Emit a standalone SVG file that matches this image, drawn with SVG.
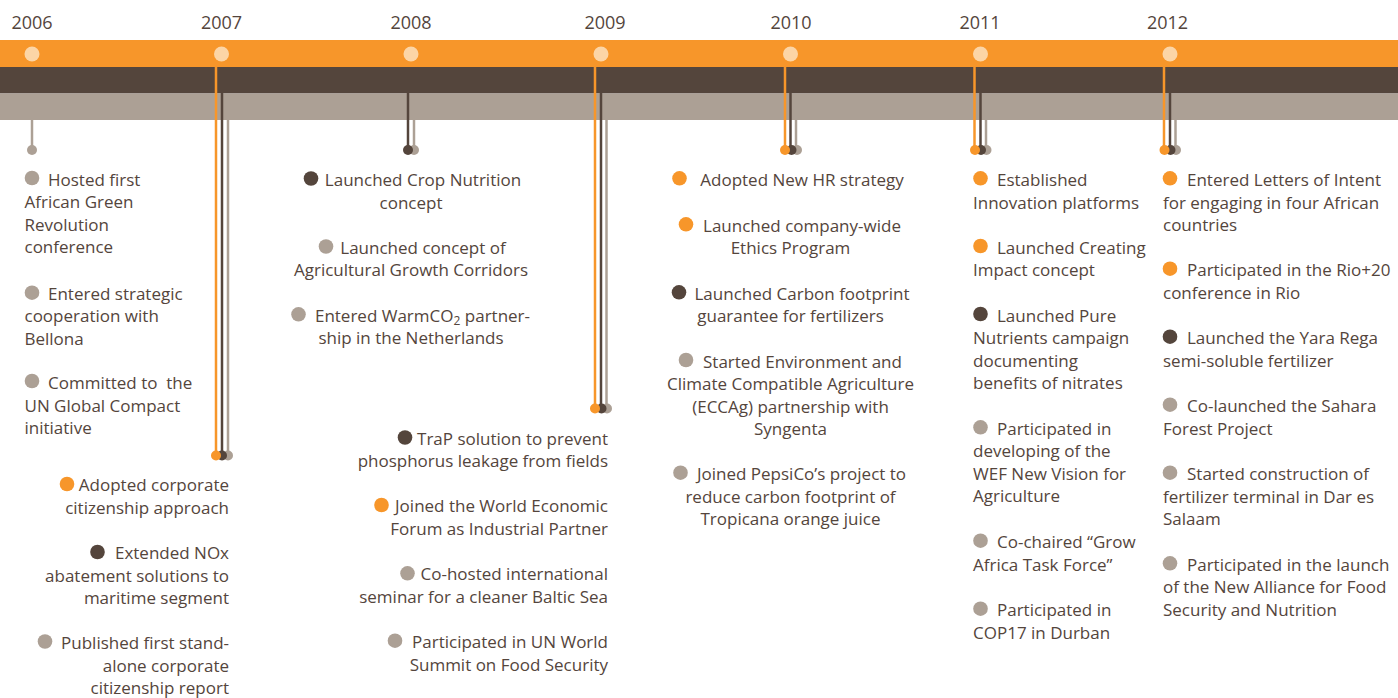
<svg xmlns="http://www.w3.org/2000/svg" width="1398" height="698" viewBox="0 0 1398 698">
<style>
.t{font-family:"Open Sans","Liberation Sans",sans-serif;font-size:17px;fill:#54453c}
.y{font-family:"Open Sans","Liberation Sans",sans-serif;font-size:18px;fill:#54453c;text-anchor:middle}
.e{text-anchor:end}
.m{text-anchor:middle}
.o{fill:#f7962a}
.d{fill:#54453c}
.g{fill:#aca095}
.yc{fill:#fcd5a6}
.lo{stroke:#f7962a;stroke-width:2.5;fill:none}
.ld{stroke:#54453c;stroke-width:2.5;fill:none}
.lg{stroke:#aca095;stroke-width:2.5;fill:none}
</style>
<rect width="1398" height="698" fill="#ffffff"/>
<g id="bars">
<rect x="0" y="40" width="1398" height="27" class="o"/>
<rect x="0" y="67" width="1398" height="26.5" class="d"/>
<rect x="0" y="93.5" width="1398" height="26.5" class="g"/>
</g>
<g id="years">
<text class="y" x="32" y="29">2006</text>
<text class="y" x="221.5" y="29">2007</text>
<text class="y" x="411" y="29">2008</text>
<text class="y" x="605" y="29">2009</text>
<text class="y" x="791" y="29">2010</text>
<text class="y" x="980" y="29">2011</text>
<text class="y" x="1167.5" y="29">2012</text>
<circle class="yc" cx="32" cy="54" r="7.5"/>
<circle class="yc" cx="221.5" cy="54" r="7.5"/>
<circle class="yc" cx="411" cy="54" r="7.5"/>
<circle class="yc" cx="601" cy="54" r="7.5"/>
<circle class="yc" cx="790.5" cy="54" r="7.5"/>
<circle class="yc" cx="980.5" cy="54" r="7.5"/>
<circle class="yc" cx="1170" cy="54" r="7.5"/>
</g>
<g id="connectors">
<line class="lg" x1="32" y1="120" x2="32" y2="150"/>
<circle class="g" cx="32" cy="150" r="5"/>
<line class="lo" x1="216" y1="67" x2="216" y2="455"/>
<line class="ld" x1="222" y1="93" x2="222" y2="455"/>
<line class="lg" x1="228" y1="120" x2="228" y2="455"/>
<circle class="g" cx="228" cy="455.5" r="5"/>
<circle class="d" cx="222" cy="455.5" r="5"/>
<circle class="o" cx="216" cy="455.5" r="5"/>
<line class="ld" x1="408" y1="93" x2="408" y2="150"/>
<line class="lg" x1="414" y1="120" x2="414" y2="150"/>
<circle class="g" cx="414" cy="150" r="5"/>
<circle class="d" cx="408" cy="150" r="5"/>
<line class="lo" x1="595" y1="67" x2="595" y2="408.5"/>
<line class="ld" x1="601" y1="93" x2="601" y2="408.5"/>
<line class="lg" x1="606.5" y1="120" x2="606.5" y2="408.5"/>
<circle class="g" cx="607" cy="408.5" r="5"/>
<circle class="d" cx="601.5" cy="408.5" r="5"/>
<circle class="o" cx="595" cy="408.5" r="5"/>
<line class="lo" x1="785" y1="67" x2="785" y2="150"/>
<line class="ld" x1="790.5" y1="93" x2="790.5" y2="150"/>
<line class="lg" x1="796" y1="120" x2="796" y2="150"/>
<circle class="g" cx="797" cy="150" r="5"/>
<circle class="d" cx="791.5" cy="150" r="5"/>
<circle class="o" cx="785" cy="150" r="5"/>
<line class="lo" x1="974.5" y1="67" x2="974.5" y2="150"/>
<line class="ld" x1="980.5" y1="93" x2="980.5" y2="150"/>
<line class="lg" x1="986" y1="120" x2="986" y2="150"/>
<circle class="g" cx="986.5" cy="150" r="5"/>
<circle class="d" cx="981" cy="150" r="5"/>
<circle class="o" cx="975" cy="150" r="5"/>
<line class="lo" x1="1164" y1="67" x2="1164" y2="150"/>
<line class="ld" x1="1170" y1="93" x2="1170" y2="150"/>
<line class="lg" x1="1175.5" y1="120" x2="1175.5" y2="150"/>
<circle class="g" cx="1176" cy="150" r="5"/>
<circle class="d" cx="1170.5" cy="150" r="5"/>
<circle class="o" cx="1164.5" cy="150" r="5"/>
</g>
<g id="y2006">
<circle class="g" cx="32" cy="178" r="7.3"/>
<text class="t" x="48" y="185.5">Hosted first</text>
<text class="t" x="24.5" y="208">African Green</text>
<text class="t" x="24.5" y="230.5">Revolution</text>
<text class="t" x="24.5" y="253">conference</text>
<circle class="g" cx="32" cy="292.7" r="7.3"/>
<text class="t" x="48" y="299.5">Entered strategic</text>
<text class="t" x="24.5" y="322">cooperation with</text>
<text class="t" x="24.5" y="344.5">Bellona</text>
<circle class="g" cx="32" cy="381" r="7.3"/>
<text class="t" x="48" y="389" xml:space="preserve">Committed to  the</text>
<text class="t" x="24.5" y="411.5">UN Global Compact</text>
<text class="t" x="24.5" y="434">initiative</text>
</g>
<g id="y2007">
<circle class="o" cx="67" cy="484" r="7.3"/>
<text class="t e" x="229" y="491">Adopted corporate</text>
<text class="t e" x="229" y="513.5">citizenship approach</text>
<circle class="d" cx="97.5" cy="552" r="7.3"/>
<text class="t e" x="229" y="559">Extended NOx</text>
<text class="t e" x="229" y="581.5">abatement solutions to</text>
<text class="t e" x="229" y="604">maritime segment</text>
<circle class="g" cx="45" cy="641.5" r="7.3"/>
<text class="t e" x="229" y="649">Published first stand-</text>
<text class="t e" x="229" y="671.5">alone corporate</text>
<text class="t e" x="229" y="694">citizenship report</text>
</g>
<g id="y2008">
<circle class="d" cx="311" cy="178.5" r="7.3"/>
<text class="t m" x="423" y="186">Launched Crop Nutrition</text>
<text class="t m" x="411" y="208.5">concept</text>
<circle class="g" cx="326" cy="246.5" r="7.3"/>
<text class="t m" x="423" y="253.5">Launched concept of</text>
<text class="t m" x="411" y="276">Agricultural Growth Corridors</text>
<circle class="g" cx="298.5" cy="314.3" r="7.3"/>
<text class="t m" x="422.5" y="321.5">Entered WarmCO<tspan font-size="12" dy="3">2</tspan><tspan dy="-3"> partner-</tspan></text>
<text class="t m" x="411" y="344">ship in the Netherlands</text>
</g>
<g id="y2009">
<circle class="d" cx="405" cy="437.5" r="7.3"/>
<text class="t e" x="608" y="444.5">TraP solution to prevent</text>
<text class="t e" x="608" y="467">phosphorus leakage from fields</text>
<circle class="o" cx="381.5" cy="505" r="7.3"/>
<text class="t e" x="608" y="512">Joined the World Economic</text>
<text class="t e" x="608" y="534.5">Forum as Industrial Partner</text>
<circle class="g" cx="407.5" cy="573.3" r="7.3"/>
<text class="t e" x="608" y="580">Co-hosted international</text>
<text class="t e" x="608" y="602.5">seminar for a cleaner Baltic Sea</text>
<circle class="g" cx="395" cy="640.7" r="7.3"/>
<text class="t e" x="608" y="648">Participated in UN World</text>
<text class="t e" x="608" y="670.5">Summit on Food Security</text>
</g>
<g id="y2010">
<circle class="o" cx="679.5" cy="178.3" r="7.3"/>
<text class="t m" x="802" y="186">Adopted New HR strategy</text>
<circle class="o" cx="686" cy="224.3" r="7.3"/>
<text class="t m" x="802" y="231.5">Launched company-wide</text>
<text class="t m" x="790.5" y="254">Ethics Program</text>
<circle class="d" cx="679" cy="292.3" r="7.3"/>
<text class="t m" x="802" y="299.5">Launched Carbon footprint</text>
<text class="t m" x="790.5" y="322">guarantee for fertilizers</text>
<circle class="g" cx="686" cy="360" r="7.3"/>
<text class="t m" x="802.5" y="367.5">Started Environment and</text>
<text class="t m" x="790.5" y="390">Climate Compatible Agriculture</text>
<text class="t m" x="790.5" y="412.5">(ECCAg) partnership with</text>
<text class="t m" x="790.5" y="435">Syngenta</text>
<circle class="g" cx="680.5" cy="472.7" r="7.3"/>
<text class="t m" x="801.5" y="480">Joined PepsiCo’s project to</text>
<text class="t m" x="790.5" y="502.5">reduce carbon footprint of</text>
<text class="t m" x="790.5" y="525">Tropicana orange juice</text>
</g>
<g id="y2011">
<circle class="o" cx="980.5" cy="178.3" r="7.3"/>
<text class="t" x="997" y="186">Established</text>
<text class="t" x="973" y="208.5">Innovation platforms</text>
<circle class="o" cx="980.5" cy="246" r="7.3"/>
<text class="t" x="997" y="253.5">Launched Creating</text>
<text class="t" x="973" y="276">Impact concept</text>
<circle class="d" cx="980.5" cy="314" r="7.3"/>
<text class="t" x="997" y="321.5">Launched Pure</text>
<text class="t" x="973" y="344">Nutrients campaign</text>
<text class="t" x="973" y="366.5">documenting</text>
<text class="t" x="973" y="389">benefits of nitrates</text>
<circle class="g" cx="980.5" cy="427.3" r="7.3"/>
<text class="t" x="997" y="434.5">Participated in</text>
<text class="t" x="973" y="457">developing of the</text>
<text class="t" x="973" y="479.5">WEF New Vision for</text>
<text class="t" x="973" y="502">Agriculture</text>
<circle class="g" cx="980.5" cy="540.7" r="7.3"/>
<text class="t" x="997" y="548">Co-chaired “Grow</text>
<text class="t" x="973" y="570.5">Africa Task Force”</text>
<circle class="g" cx="980.5" cy="608.7" r="7.3"/>
<text class="t" x="997" y="616">Participated in</text>
<text class="t" x="973" y="638.5">COP17 in Durban</text>
</g>
<g id="y2012">
<circle class="o" cx="1170" cy="178.3" r="7.3"/>
<text class="t" x="1187" y="186">Entered Letters of Intent</text>
<text class="t" x="1163" y="208.5">for engaging in four African</text>
<text class="t" x="1163" y="231">countries</text>
<circle class="o" cx="1170" cy="268.7" r="7.3"/>
<text class="t" x="1187" y="276">Participated in the Rio+20</text>
<text class="t" x="1163" y="298.5">conference in Rio</text>
<circle class="d" cx="1170" cy="336.7" r="7.3"/>
<text class="t" x="1187" y="344">Launched the Yara Rega</text>
<text class="t" x="1163" y="366.5">semi-soluble fertilizer</text>
<circle class="g" cx="1170" cy="404.7" r="7.3"/>
<text class="t" x="1187" y="412">Co-launched the Sahara</text>
<text class="t" x="1163" y="434.5">Forest Project</text>
<circle class="g" cx="1170" cy="472.7" r="7.3"/>
<text class="t" x="1187" y="480">Started construction of</text>
<text class="t" x="1163" y="502.5">fertilizer terminal in Dar es</text>
<text class="t" x="1163" y="525">Salaam</text>
<circle class="g" cx="1170" cy="563.3" r="7.3"/>
<text class="t" x="1187" y="570.5">Participated in the launch</text>
<text class="t" x="1163" y="593">of the New Alliance for Food</text>
<text class="t" x="1163" y="615.5">Security and Nutrition</text>
</g>
</svg>
